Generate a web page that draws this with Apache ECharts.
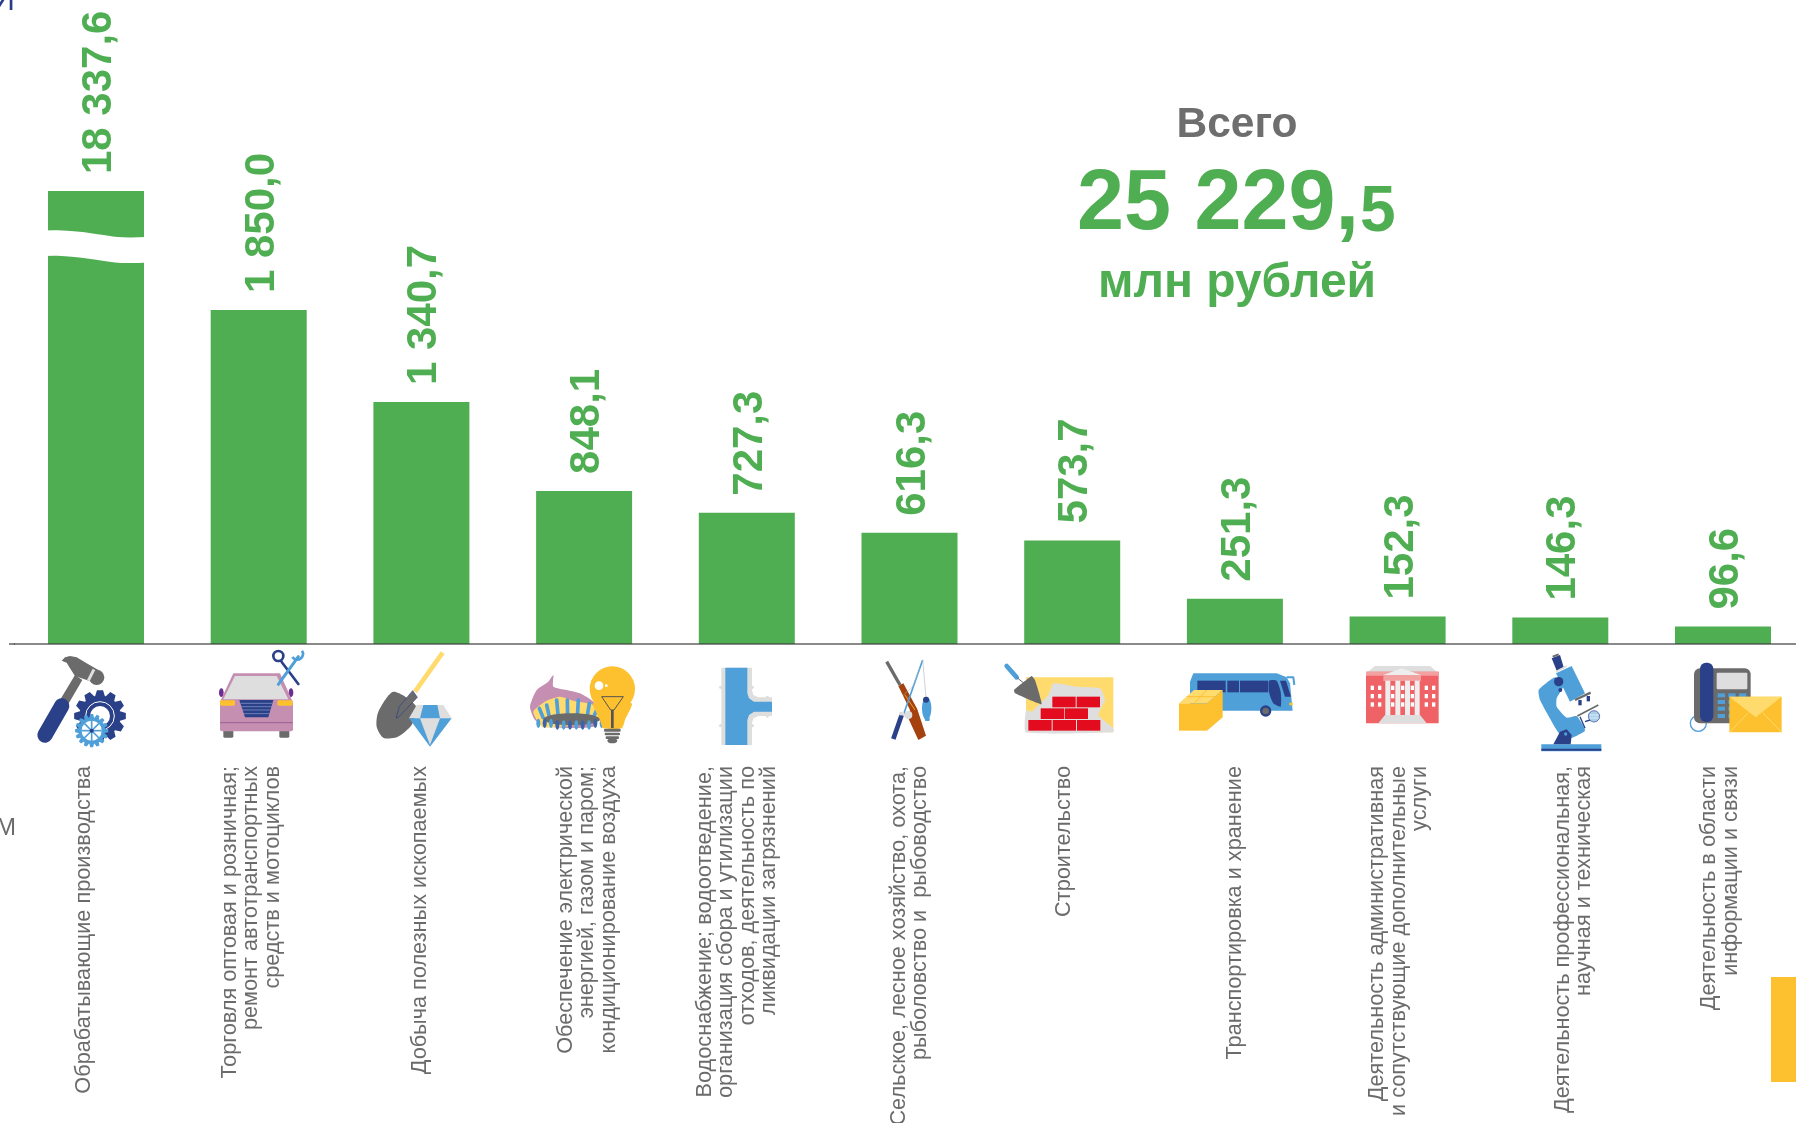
<!DOCTYPE html>
<html>
<head>
<meta charset="utf-8">
<style>
  html, body { margin: 0; padding: 0; background: #fff; }
  #chart { width: 1796px; height: 1123px; }
</style>
<script src="https://cdn.jsdelivr.net/npm/echarts@6/dist/echarts.min.js"></script>
</head>
<body>
<div id="chart"></div>
<script>
var categories = [
  'Обрабатывающие производства',
  'Торговля оптовая и розничная;\nремонт автотранспортных\nсредств и мотоциклов',
  'Добыча полезных ископаемых',
  'Обеспечение электрической\nэнергией, газом и паром;\nкондиционирование воздуха',
  'Водоснабжение; водоотведение,\nорганизация сбора и утилизации\nотходов, деятельность по\nликвидации загрязнений',
  'Сельское, лесное хозяйство, охота,\nрыболовство и  рыбоводство',
  'Строительство',
  'Транспортировка и хранение',
  'Деятельность административная\nи сопутствующие дополнительные\nуслуги',
  'Деятельность профессиональная,\nнаучная и техническая',
  'Деятельность в области\nинформации и связи'
];
var values = [18337.6, 1850.0, 1340.7, 848.1, 727.3, 616.3, 573.7, 251.3, 152.3, 146.3, 96.6];

var GREEN = '#4FAE52', GRAY = '#6B6B6B', LIGHT = '#DEDEDE', NAVY = '#2A4089',
    BLUE = '#4F9FD9', YELLOW = '#FDC02F', PALE = '#FFDB6E', PINK = '#C48FB0';

// the tall bar is cut between these two values, the wave is drawn over the cut
var breakStart = 2109, breakEnd = 18115, breakGap = 178;
// page px, + is to the right of the bar centre
var labelShift = [-12, -7.5, -1, 3, -10, 0, -8, 0, 1, 13, -3];
var barWidth = 96;
var waveX = [0, 0.12, 0.3, 0.5, 0.7, 0.85, 1];
var waveY = [-4, -4.2, -3, -0.5, 2.5, 3, 2.5];

function formatValue(v) {
  var parts = v.toFixed(1).split('.');
  return parts[0].replace(/\B(?=(\d{3})+$)/g, ' ') + ',' + parts[1];
}

// ---- small shape helpers for the pictograms, coords are 3x crop px
function poly(points, fill, smooth) {
  return { type: 'polygon', shape: { points: points, smooth: smooth || 0 }, style: { fill: fill } };
}
function line(points, color, w, cap) {
  return { type: 'polyline', shape: { points: points }, style: { stroke: color, fill: null, lineWidth: w, lineCap: cap || 'butt', lineJoin: 'round' } };
}
function circ(cx, cy, r, fill, stroke, w) {
  return { type: 'circle', shape: { cx: cx, cy: cy, r: r }, style: { fill: fill || null, stroke: stroke || null, lineWidth: w || 0 } };
}
function ell(cx, cy, rx, ry, fill) {
  return { type: 'ellipse', shape: { cx: cx, cy: cy, rx: rx, ry: ry }, style: { fill: fill } };
}
function box(x, y, w, h, fill, r) {
  return { type: 'rect', shape: { x: x, y: y, width: w, height: h, r: r || 0 }, style: { fill: fill } };
}
function gear(cx, cy, rOut, rIn, teeth, fill) {
  var pts = [], step = Math.PI * 2 / teeth;
  for (var i = 0; i < teeth; i++) {
    var a = i * step;
    [[-0.5, rIn], [-0.25, rOut], [0.25, rOut], [0.5, rIn]].forEach(function (p) {
      pts.push([cx + p[1] * Math.cos(a + p[0] * step * 0.9), cy + p[1] * Math.sin(a + p[0] * step * 0.9)]);
    });
  }
  return poly(pts, fill);
}
function icon(ox, oy, children) {
  return { type: 'group', x: ox, y: oy, scaleX: 1 / 3, scaleY: 1 / 3, children: children, silent: true };
}

function hammerIcon() {
  return [
    poly([[120, 180], [165, 105], [187, 120], [145, 192]], GRAY),
    poly([[125, 62], [135, 52], [150, 48], [170, 52], [200, 70], [235, 90], [240, 132], [215, 125], [165, 108], [150, 85], [140, 68]], GRAY),
    circ(230, 112, 23, GRAY),
    line([[205, 122], [222, 88]], LIGHT, 9),
    line([[75, 285], [125, 198]], NAVY, 46, 'round'),
    gear(240, 228, 78, 62, 12, NAVY),
    circ(240, 228, 43, NAVY, '#fff', 3),
    circ(240, 228, 30, '#fff'),
    gear(215, 272, 50, 40, 16, BLUE),
    circ(215, 272, 30, '#fff'),
    line([[215, 240], [215, 304]], BLUE, 5), line([[185, 272], [245, 272]], BLUE, 5),
    line([[193, 250], [237, 294]], BLUE, 5), line([[237, 250], [193, 294]], BLUE, 5),
    circ(215, 272, 6, NAVY)
  ];
}
function carIcon() {
  return [
    box(610, 268, 30, 25, GRAY, 4), box(778, 268, 30, 25, GRAY, 4),
    ell(604, 158, 7, 13, '#6C2E91'), ell(813, 158, 7, 13, '#6C2E91'),
    poly([[600, 185], [640, 100], [780, 100], [818, 185]], PINK),
    box(600, 182, 219, 92, PINK, 6),
    poly([[610, 178], [645, 108], [770, 108], [805, 178]], LIGHT),
    box(600, 181, 45, 16, YELLOW, 4), box(772, 181, 46, 16, YELLOW, 4),
    poly([[658, 180], [760, 180], [745, 232], [675, 232]], NAVY),
    line([[662, 190], [756, 190]], '#8FA0CC', 2), line([[664, 200], [754, 200]], '#8FA0CC', 2),
    line([[667, 210], [751, 210]], '#8FA0CC', 2), line([[670, 221], [748, 221]], '#8FA0CC', 2),
    line([[601, 248], [818, 248]], '#9C5E90', 3),
    line([[785, 66], [835, 132]], NAVY, 8, 'round'),
    circ(775, 48, 15, '#fff', NAVY, 8),
    line([[775, 133], [835, 50]], BLUE, 9, 'round'),
    { type: 'arc', shape: { cx: 832, cy: 42, r: 17, startAngle: -0.6, endAngle: 2.6 }, style: { stroke: BLUE, fill: null, lineWidth: 8 } }
  ];
}
function shovelIcon() {
  return [
    line([[248, 38], [165, 155]], PALE, 14),
    poly([[100, 155], [168, 198], [155, 255], [110, 292], [70, 293], [50, 260], [55, 215]], GRAY, 0.25),
    { type: 'polygon', shape: { points: [[158, 152], [172, 172], [115, 232], [108, 234], [118, 200]] }, style: { fill: GRAY, stroke: NAVY, lineWidth: 2 } },
    poly([[170, 195], [250, 195], [275, 235], [147, 235]], LIGHT),
    poly([[190, 195], [232, 195], [240, 235], [180, 235]], BLUE),
    poly([[147, 235], [275, 235], [210, 320]], BLUE),
    poly([[180, 235], [240, 235], [210, 315]], LIGHT)
  ];
}
function gasIcon() {
  var kids = [
    poly([[510, 200], [530, 150], [565, 125], [580, 105], [580, 140], [620, 150], [660, 160], [700, 185], [720, 215], [700, 260], [560, 260], [525, 240]], PINK, 0.2),
    poly([[520, 215], [560, 182], [600, 170], [640, 182], [700, 195], [725, 240], [550, 262]], PALE, 0.2)
  ];
  var tops = [[538, 205], [560, 195], [590, 180], [622, 180], [655, 180], [688, 190], [710, 210]];
  tops.forEach(function (t) { kids.push(line([t, [t[0] + (630 - t[0]) * 0.12, 232]], BLUE, 11, 'round')); });
  kids.push(ell(635, 238, 85, 18, GRAY));
  for (var x = 535; x <= 725; x += 19) {
    kids.push(ell(x, 252 + (x > 585 && x < 690 ? 3 : -2), 6, 14, x % 2 ? BLUE : '#3C62A8'));
  }
  return kids.concat([
    circ(757, 147, 68, YELLOW),
    poly([[700, 190], [815, 190], [795, 240], [785, 265], [730, 265], [720, 240]], YELLOW, 0.2),
    circ(717, 137, 13, '#fff'), circ(739, 137, 4, '#fff'),
    line([[725, 170], [790, 170], [762, 210], [752, 210], [725, 170]], '#555', 3),
    line([[757, 210], [757, 264]], '#555', 8),
    box(732, 266, 50, 9, GRAY, 3), box(734, 278, 46, 8, GRAY, 3), box(737, 289, 40, 8, GRAY, 3),
    ell(757, 302, 15, 8, GRAY)
  ]);
}
function pipeIcon() {
  return [
    circ(92, 142, 5, LIGHT), circ(92, 257, 5, LIGHT), circ(187, 142, 5, LIGHT), circ(187, 257, 5, LIGHT),
    circ(232, 172, 5, LIGHT), circ(232, 228, 5, LIGHT),
    poly([[94, 83], [186, 83], [186, 150], [190, 165], [205, 172], [246, 172], [246, 228], [205, 228], [190, 235], [186, 250], [186, 315], [94, 315]], LIGHT),
    poly([[106, 83], [172, 83], [172, 160], [177, 175], [192, 185], [246, 185], [246, 215], [192, 215], [177, 225], [172, 240], [172, 315], [106, 315]], BLUE)
  ];
}
function fishingIcon() {
  return [
    line([[590, 65], [630, 135]], GRAY, 10),
    poly([[625, 138], [640, 130], [682, 208], [708, 287], [685, 300], [655, 235], [660, 210]], '#A5410F'),
    line([[645, 165], [675, 210]], '#F5A623', 3),
    line([[698, 60], [640, 225]], BLUE, 5),
    line([[635, 225], [610, 297]], NAVY, 14),
    line([[698, 60], [708, 172]], '#BBB', 2),
    line([[690, 85], [668, 140], [640, 165]], '#BBB', 1.5),
    circ(655, 225, 12, LIGHT),
    box(628, 216, 14, 10, LIGHT),
    ell(710, 205, 14, 35, BLUE),
    circ(708, 179, 9, NAVY),
    poly([[704, 235], [720, 235], [718, 243], [706, 243]], BLUE)
  ];
}
function bricksIcon() {
  var RED = '#E30B1E';
  return [
    box(108, 112, 262, 165, PALE),
    poly([[108, 210], [125, 215], [175, 165], [190, 130], [260, 140], [330, 145], [345, 180], [325, 225], [370, 265], [370, 277], [108, 277]], LIGHT, 0.15),
    box(187, 170, 70, 32, RED), box(260, 170, 70, 32, RED),
    box(152, 205, 70, 32, RED), box(224, 205, 70, 32, RED),
    box(115, 240, 70, 32, RED), box(188, 240, 70, 32, RED), box(261, 240, 70, 32, RED),
    line([[50, 78], [80, 112]], BLUE, 14, 'round'),
    line([[80, 112], [102, 130]], GRAY, 3),
    poly([[125, 108], [135, 120], [155, 193], [75, 160], [72, 150]], GRAY, 0.1)
  ];
}
function busIcon() {
  return [
    poly([[600, 125], [610, 100], [860, 100], [890, 112], [900, 130], [908, 212], [600, 212]], BLUE),
    box(622, 122, 85, 35, NAVY), box(712, 122, 35, 35, NAVY), box(750, 122, 85, 35, NAVY),
    poly([[838, 122], [860, 122], [872, 155], [872, 200], [850, 190], [838, 160]], NAVY, 0.2),
    poly([[870, 122], [888, 122], [903, 170], [885, 170]], NAVY),
    line([[890, 112], [910, 112], [913, 135]], BLUE, 6),
    circ(827, 213, 17, NAVY), circ(827, 213, 10, GRAY),
    box(898, 188, 10, 8, YELLOW),
    box(567, 190, 84, 82, YELLOW),
    poly([[651, 190], [698, 150], [698, 232], [651, 272]], YELLOW),
    poly([[567, 190], [612, 150], [698, 150], [651, 190]], PALE),
    line([[590, 170], [675, 170]], YELLOW, 3),
    line([[612, 190], [650, 150]], YELLOW, 3)
  ];
}
function buildingIcon() {
  var RED = '#EF6366', kids = [
    poly([[78, 100], [105, 78], [270, 78], [296, 100]], LIGHT),
    box(78, 95, 218, 155, RED),
    box(78, 95, 218, 12, '#F2A0A0'),
    box(130, 105, 113, 18, '#F2A0A0'),
    poly([[130, 105], [185, 85], [243, 105]], '#EEE')
  ];
  [92, 114, 153, 183, 212, 254, 276].forEach(function (x) {
    [137, 162, 187].forEach(function (y) { kids.push(box(x, y, 10, 13, '#fff')); });
  });
  [136, 166, 195, 224].forEach(function (x) { kids.push(box(x, 122, 15, 105, '#EEE')); });
  kids.push(poly([[115, 250], [135, 225], [240, 225], [260, 250]], LIGHT));
  return kids;
}
function microscopeIcon() {
  return [
    box(604, 313, 180, 21, BLUE), box(604, 326, 180, 6, NAVY),
    poly([[596, 150], [645, 112], [672, 135], [650, 175], [650, 200], [680, 233], [710, 228], [735, 272], [675, 300], [650, 270], [600, 180]], BLUE, 0.15),
    poly([[640, 313], [660, 275], [680, 268], [695, 285], [692, 313]], NAVY),
    circ(677, 282, 5, BLUE),
    poly([[648, 100], [695, 78], [735, 160], [690, 185]], BLUE),
    poly([[635, 55], [660, 45], [672, 85], [650, 92]], NAVY),
    line([[638, 50], [656, 43]], GRAY, 6),
    line([[648, 95], [680, 78]], LIGHT, 5),
    circ(656, 125, 14, NAVY), circ(661, 150, 6, NAVY),
    line([[705, 180], [752, 158]], GRAY, 7),
    box(715, 180, 10, 16, NAVY), box(740, 168, 10, 16, NAVY),
    line([[712, 228], [775, 195]], GRAY, 5),
    line([[720, 230], [735, 265]], NAVY, 4),
    line([[735, 245], [750, 240]], NAVY, 4),
    circ(762, 229, 17, '#A9CFEA', NAVY, 2),
    line([[750, 225], [775, 225]], '#fff', 2), line([[750, 234], [775, 234]], '#fff', 2)
  ];
}
function phoneIcon() {
  var kids = [
    circ(1075, 250, 24, null, BLUE, 4),
    box(1062, 85, 170, 165, GRAY, 18),
    box(1130, 98, 92, 50, LIGHT, 3),
    box(1080, 68, 40, 178, NAVY, 18)
  ];
  [1133, 1165, 1197].forEach(function (x) {
    [160, 180, 200, 222].forEach(function (y) { kids.push(box(x, y, 22, 12, BLUE)); });
  });
  return kids.concat([
    box(1168, 170, 157, 107, YELLOW),
    poly([[1168, 170], [1325, 170], [1247, 232]], PALE),
    line([[1168, 277], [1225, 218]], PALE, 3),
    line([[1325, 277], [1268, 218]], PALE, 3)
  ]);
}

var chart = echarts.init(document.getElementById('chart'), null, { renderer: 'canvas' });

chart.setOption({
  animation: false,
  backgroundColor: '#fff',
  grid: { left: 14.65, top: 0, width: 1789.7, height: 644, containLabel: false, outerBoundsMode: 'none' },
  xAxis: {
    type: 'category',
    z: 5,
    data: categories,
    axisTick: { show: false },
    axisLine: { lineStyle: { color: 'rgba(60,60,60,0.6)', width: 2 } },
    // labels sit at a different offset per bar, they are drawn by the custom series below
    axisLabel: { show: false }
  },
  yAxis: {
    type: 'value',
    show: false,
    min: 0,
    max: 19396,
    splitLine: { show: false },
    breaks: [{ start: breakStart, end: breakEnd, gap: breakGap }]
  },
  series: [
    {
      type: 'bar',
      data: values,
      barWidth: barWidth,
      itemStyle: { color: GREEN },
      label: {
        show: true,
        position: 'top',
        distance: 17,
        rotate: 90,
        align: 'left',
        verticalAlign: 'middle',
        offset: [0, 3.5],
        color: GREEN,
        fontFamily: 'Liberation Sans',
        fontWeight: 'bold',
        fontSize: 42,
        formatter: function (p) { return formatValue(p.value); }
      }
    },
    {
      // white wave over the cut in the first bar
      type: 'custom',
      z: 3,
      silent: true,
      data: [[0, breakStart]],
      renderItem: function (params, api) {
        var low = api.coord([0, breakStart]);
        var high = api.coord([0, breakEnd]);
        var mid = (low[1] + high[1]) / 2;
        var left = low[0] - barWidth / 2 - 3;
        var span = barWidth + 6;
        return {
          type: 'polyline',
          shape: {
            smooth: 0.4,
            points: waveX.map(function (u, i) { return [left + u * span, mid + waveY[i]]; })
          },
          style: { stroke: '#fff', fill: null, lineWidth: 25.5 }
        };
      }
    },
    {
      // category names under the pictograms
      type: 'custom',
      z: 4,
      silent: true,
      data: categories.map(function (name, i) { return [i, 0]; }),
      renderItem: function (params, api) {
        var i = params.dataIndex;
        var p = api.coord([i, 0]);
        return {
          type: 'text',
          x: p[0] + labelShift[i],
          y: p[1] + 122,
          rotation: Math.PI / 2,
          style: {
            text: categories[i],
            fill: GRAY,
            textAlign: 'right',
            textVerticalAlign: 'middle',
            font: '21.7px "Liberation Sans"',
            lineHeight: 21.5
          }
        };
      }
    }
  ],
  graphic: [
    { type: 'line', shape: { x1: 9, y1: 644, x2: 15, y2: 644 }, style: { stroke: 'rgba(60,60,60,0.6)', lineWidth: 2 } },
    { type: 'text', x: 1237, y: 125.5, style: { text: 'Всего', fill: '#6E6E6E', textAlign: 'center', textVerticalAlign: 'middle', font: 'bold 42.5px "Liberation Sans"' } },
    { type: 'text', x: 1359, y: 206, style: { text: '25 229,', fill: GREEN, textAlign: 'right', textVerticalAlign: 'middle', font: 'bold 84.5px "Liberation Sans"' } },
    { type: 'text', x: 1360, y: 213, style: { text: '5', fill: GREEN, textAlign: 'left', textVerticalAlign: 'middle', font: 'bold 64px "Liberation Sans"' } },
    { type: 'text', x: 1237, y: 283.5, style: { text: 'млн рублей', fill: GREEN, textAlign: 'center', textVerticalAlign: 'middle', font: 'bold 48px "Liberation Sans"' } },
    // bits of neighbouring slide content cut by the crop
    { type: 'text', x: 15, y: 1, style: { text: 'И', fill: '#2A3A8C', textAlign: 'right', textVerticalAlign: 'middle', font: '32px "Liberation Sans"' } },
    { type: 'text', x: 16, y: 828, style: { text: 'М', fill: GRAY, textAlign: 'right', textVerticalAlign: 'middle', font: '24px "Liberation Sans"' } },
    { type: 'rect', shape: { x: 1771, y: 977, width: 25, height: 105 }, style: { fill: YELLOW } },
    icon(20, 640, hammerIcon().concat(carIcon())),
    icon(360, 640, shovelIcon().concat(gasIcon())),
    icon(690, 640, pipeIcon().concat(fishingIcon())),
    icon(990, 640, bricksIcon().concat(busIcon())),
    icon(1340, 640, buildingIcon().concat(microscopeIcon(), phoneIcon()))
  ]
});
</script>
</body>
</html>
